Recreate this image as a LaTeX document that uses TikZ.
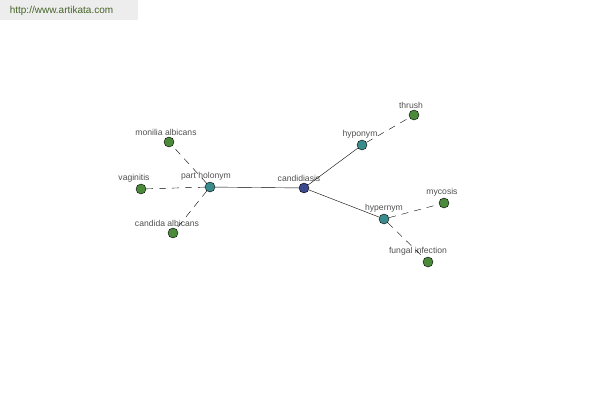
\documentclass[tikz,border=0pt]{standalone}
\usepackage{fontspec}
\setmainfont{Liberation Sans}
\usetikzlibrary{arrows}
\definecolor{rootblue}{RGB}{60,72,140}
\definecolor{relteal}{RGB}{58,140,140}
\definecolor{leafgreen}{RGB}{74,138,58}
\definecolor{txtgray}{RGB}{80,80,80}
\definecolor{siteolive}{RGB}{70,100,40}

\begin{document}
\begin{tikzpicture}[x=1pt,y=-1pt,
  dot/.style={circle,draw=black,inner sep=0pt,minimum size=10pt},
  lab/.style={txtgray,font=\fontsize{8.6}{9}\selectfont,label distance=-2.5pt},
  root/.style={dot,fill=rootblue},
  rel/.style={dot,fill=relteal},
  leaf/.style={dot,fill=leafgreen},
  weak/.style={dash pattern=on 7pt off 6pt}]
\useasboundingbox (0,0) rectangle (600,400);
\fill [black!7] (0,0) rectangle (138,20);
\node [siteolive,font=\fontsize{10}{11}\selectfont] (site) at (61.5,11) {http://www.artikata.com};
% nodes
\node [root,label={[lab,xshift=-5pt]above:candidiasis}] (candidiasis) at (304,188) {};
\node [rel,label={[lab,xshift=-4pt]above:part holonym}] (partholonym) at (210,187) {};
\node [rel,label={[lab,xshift=-2pt]above:hyponym}] (hyponym) at (362,145) {};
\node [rel,label={[lab]above:hypernym}] (hypernym) at (384,219) {};
\node [leaf,label={[lab,xshift=-3pt]above:monilia albicans}] (monilia) at (169,142) {};
\node [leaf,label={[lab,xshift=-7pt]above:vaginitis}] (vaginitis) at (141,189) {};
\node [leaf,label={[lab,xshift=-6pt]above:candida albicans}] (candida) at (173,233) {};
\node [leaf,label={[lab,xshift=-3pt]above:thrush}] (thrush) at (414,115) {};
\node [leaf,label={[lab,xshift=-2pt]above:mycosis}] (mycosis) at (444,203) {};
\node [leaf,label={[lab,xshift=-10pt]above:fungal infection}] (fungal) at (428,262) {};
% edges
\draw (candidiasis) -- (partholonym);
\draw (candidiasis) -- (hyponym);
\draw (candidiasis) -- (hypernym);
\draw [weak] (partholonym) -- (monilia);
\draw [weak] (partholonym) -- (vaginitis);
\draw [weak] (partholonym) -- (candida);
\draw [weak] (hyponym) -- (thrush);
\draw [weak] (hypernym) -- (mycosis);
\draw [weak] (hypernym) -- (fungal);
\end{tikzpicture}
\end{document}
